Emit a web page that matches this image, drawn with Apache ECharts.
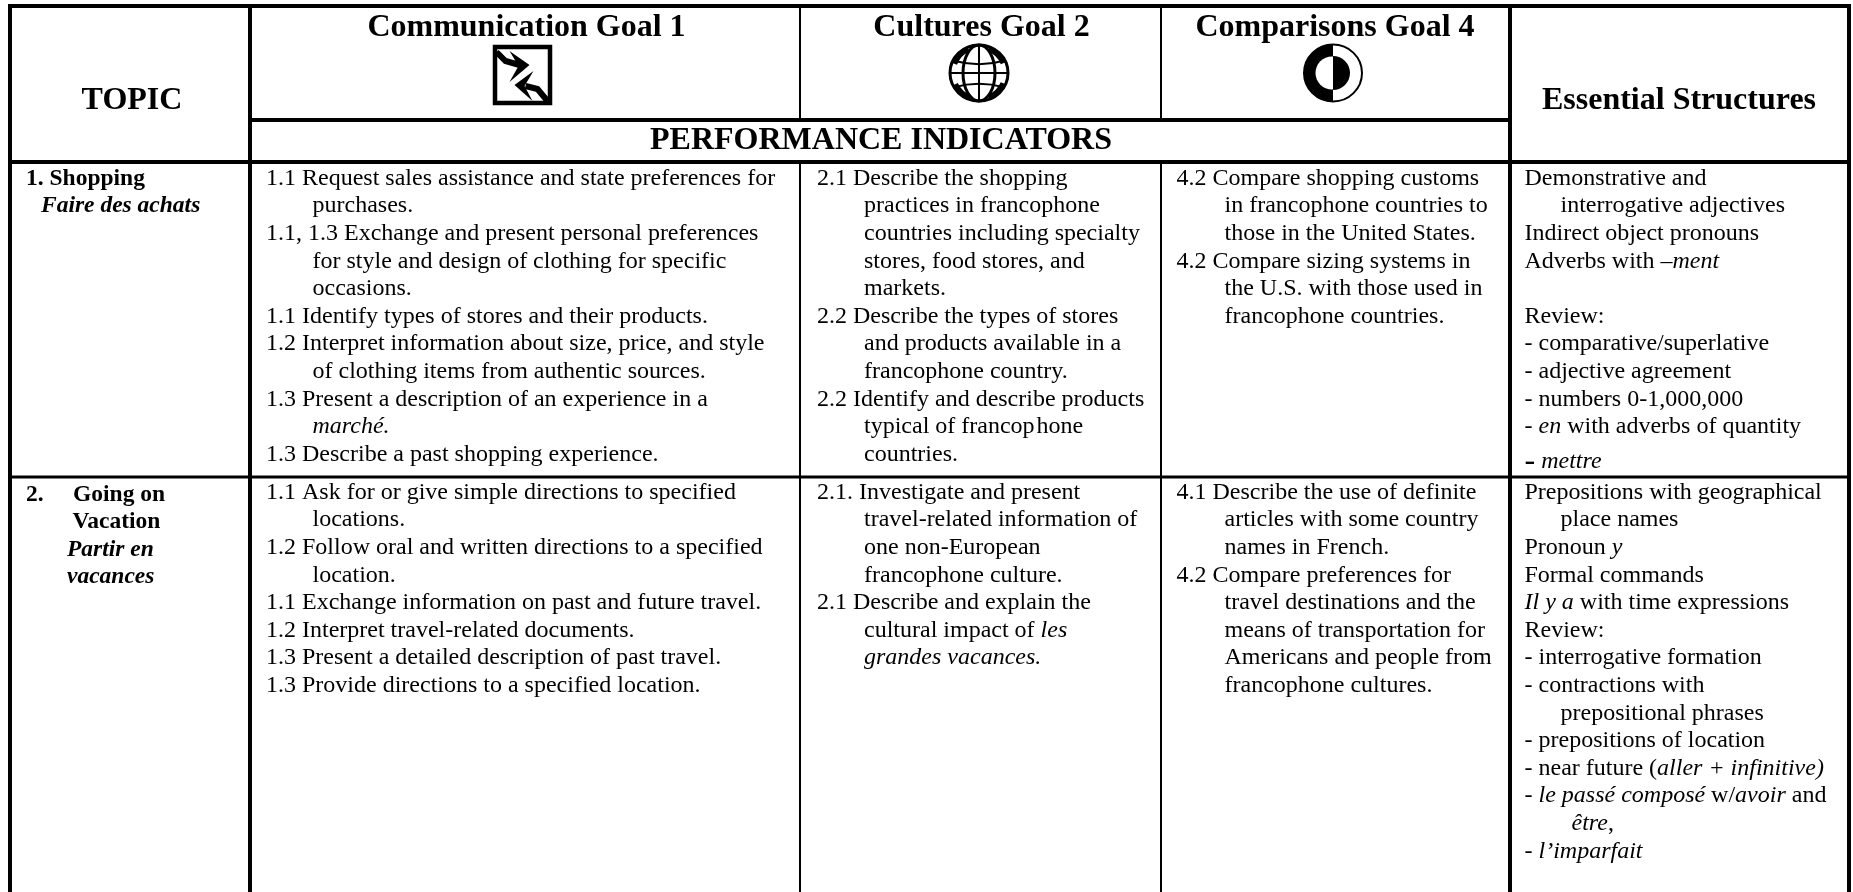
<!DOCTYPE html>
<html>
<head>
<meta charset="utf-8">
<title>Performance indicators</title>
<style>
html, body { margin: 0; height: 100%; background: #fff; }
#main { width: 1853px; height: 892px; }
</style>
<script src="https://cdn.jsdelivr.net/npm/echarts@6/dist/echarts.min.js"></script>
</head>
<body>
<div id="main"></div>
<script>
// table content. \t at the start of a line = hanging indent level, {i|..} = italic run
var headers = ['Communication Goal 1', 'Cultures Goal 2', 'Comparisons Goal 4'];
var sideHeaders = ['TOPIC', 'Essential Structures'];
var bandHeader = 'PERFORMANCE INDICATORS';

var topic1 = ['{b|1. Shopping}', '\t{bi|Faire des achats}'];
var topic2 = ['{b|2.     Going on}', '\t\t{b|Vacation}', '\t\t\t{bi|Partir en}', '\t\t\t{bi|vacances}'];

var comm1 = [
    '1.1 Request sales assistance and state preferences for',
    '\tpurchases.',
    '1.1, 1.3 Exchange and present personal preferences',
    '\tfor style and design of clothing for specific',
    '\toccasions.',
    '1.1 Identify types of stores and their products.',
    '1.2 Interpret information about size, price, and style',
    '\tof clothing items from authentic sources.',
    '1.3 Present a description of an experience in a',
    '\t{i|marché.}',
    '1.3 Describe a past shopping experience.'
];
var comm2 = [
    '1.1 Ask for or give simple directions to specified',
    '\tlocations.',
    '1.2 Follow oral and written directions to a specified',
    '\tlocation.',
    '1.1 Exchange information on past and future travel.',
    '1.2 Interpret travel-related documents.',
    '1.3 Present a detailed description of past travel.',
    '1.3 Provide directions to a specified location.'
];
var cult1 = [
    '2.1 Describe the shopping',
    '\tpractices in francophone',
    '\tcountries including specialty',
    '\tstores, food stores, and',
    '\tmarkets.',
    '2.2 Describe the types of stores',
    '\tand products available in a',
    '\tfrancophone country.',
    '2.2 Identify and describe products',
    '\ttypical of francop\u200ahone',
    '\tcountries.'
];
var cult2 = [
    '2.1. Investigate and present',
    '\ttravel-related information of',
    '\tone non-European',
    '\tfrancophone culture.',
    '2.1 Describe and explain the',
    '\tcultural impact of {i|les}',
    '\t{i|grandes vacances.}'
];
var comp1 = [
    '4.2 Compare shopping customs',
    '\tin francophone countries to',
    '\tthose in the United States.',
    '4.2 Compare sizing systems in',
    '\tthe U.S. with those used in',
    '\tfrancophone countries.'
];
var comp2 = [
    '4.1 Describe the use of definite',
    '\tarticles with some country',
    '\tnames in French.',
    '4.2 Compare preferences for',
    '\ttravel destinations and the',
    '\tmeans of transportation for',
    '\tAmericans and people from',
    '\tfrancophone cultures.'
];
var struct1 = [
    'Demonstrative and',
    '\tinterrogative adjectives',
    'Indirect object pronouns',
    'Adverbs with {i|–ment}',
    '',
    'Review:',
    '- comparative/superlative',
    '- adjective agreement',
    '- numbers 0-1,000,000',
    '- {i|en} with adverbs of quantity',
    '{big|-} {i|mettre}'
];
var struct2 = [
    'Prepositions with geographical',
    '\tplace names',
    'Pronoun {i|y}',
    'Formal commands',
    '{i|Il y a} with time expressions',
    'Review:',
    '- interrogative formation',
    '- contractions with',
    '\tprepositional phrases',
    '- prepositions of location',
    '- near future ({i|aller + infinitive)}',
    '{i|- le passé composé} w/{i|avoir} and',
    '\t\t{i|être},',
    '{i|- l’imparfait}'
];

// layout of the page, in the hidden axes' pixel units
var colX = [10, 250, 800, 1161, 1510, 1849];
var rowY = [6, 120, 162, 477, 892];
var textX = [26, 266, 817, 1176.5, 1524.5];
var indentW = [[0, 15, 46.5, 41], [0, 46.5], [0, 47], [0, 48], [0, 36, 47]];
var lineH = 27.6;
var fontName = '"Liberation Serif", "Times New Roman", serif';
var bodySize = 24;
var headSize = 32;

var rules = [
    // [x1, y1, x2, y2, width]
    [colX[0] - 2, rowY[0], colX[5] + 2, rowY[0], 4],
    [colX[0], rowY[0], colX[0], rowY[4], 4],
    [colX[1], rowY[0], colX[1], rowY[4], 4],
    [colX[4], rowY[0], colX[4], rowY[4], 4],
    [colX[5], rowY[0], colX[5], rowY[4], 4],
    [colX[2], rowY[0], colX[2], rowY[1], 2],
    [colX[3], rowY[0], colX[3], rowY[1], 2],
    [colX[2], rowY[2], colX[2], rowY[4], 2],
    [colX[3], rowY[2], colX[3], rowY[4], 2],
    [colX[1], rowY[1], colX[4], rowY[1], 4],
    [colX[0], rowY[2], colX[5], rowY[2], 4],
    [colX[0], rowY[3], colX[5], rowY[3], 3]
];

var textItems = [];
function addHead(text, x, y) {
    textItems.push({ x: x, y: y, text: text, head: true });
}
function addBlock(lines, col, y0, step) {
    var y = y0;
    lines.forEach(function (line) {
        var level = 0;
        while (line.charAt(level) === '\t') level++;
        var extra = line.indexOf('{big|') === 0 ? 7 : 0;
        textItems.push({
            x: textX[col] + indentW[col][level],
            y: y + extra,
            text: line.slice(level)
        });
        y += step || lineH;
    });
}
addHead(headers[0], 526.5, 28);
addHead(headers[1], 981.5, 28);
addHead(headers[2], 1335, 28);
addHead(sideHeaders[0], 132, 101);
addHead(sideHeaders[1], 1679, 101);
addHead(bandHeader, 881, 141);

var row1Y = 178.5, row2Y = 492.5;
addBlock(topic1, 0, row1Y);
addBlock(topic2, 0, 495, 27.4);
addBlock(comm1, 1, row1Y);
addBlock(comm2, 1, row2Y);
addBlock(cult1, 2, row1Y);
addBlock(cult2, 2, row2Y);
addBlock(comp1, 3, row1Y);
addBlock(comp2, 3, row2Y);
addBlock(struct1, 4, row1Y);
addBlock(struct2, 4, row2Y);

function richStyle(size, weight, italic) {
    return {
        fontFamily: fontName,
        fontSize: size,
        fontWeight: weight,
        fontStyle: italic ? 'italic' : 'normal',
        fill: '#000',
        verticalAlign: 'middle'
    };
}

function renderRule(params, api) {
    var r = rules[params.dataIndex];
    var p1 = api.coord([r[0], r[1]]);
    var p2 = api.coord([r[2], r[3]]);
    return {
        type: 'line',
        shape: { x1: p1[0], y1: p1[1], x2: p2[0], y2: p2[1] },
        style: { stroke: '#000', lineWidth: r[4] }
    };
}

function renderText(params, api) {
    var t = textItems[params.dataIndex];
    var p = api.coord([t.x, t.y]);
    return {
        type: 'text',
        x: p[0],
        y: p[1],
        style: {
            text: t.text,
            fontFamily: fontName,
            fontSize: t.head ? headSize : bodySize,
            fontWeight: t.head ? 'bold' : 'normal',
            fill: '#000',
            align: t.head ? 'center' : 'left',
            verticalAlign: 'middle',
            rich: {
                i: richStyle(bodySize, 'normal', true),
                b: richStyle(bodySize - 0.5, 'bold', false),
                bi: richStyle(bodySize - 0.5, 'bold', true),
                big: richStyle(bodySize + 8, 'normal', false)
            }
        }
    };
}

// the three goal pictograms, each drawn around a centre point
var icons = [
    { name: 'arrows', x: 522.5, y: 75 },
    { name: 'globe', x: 979, y: 73 },
    { name: 'contrast', x: 1333, y: 73 }
];

function arrowsIcon() {
    return [
        { type: 'rect', shape: { x: -27.5, y: -28, width: 55, height: 56 }, style: { fill: '#fff', stroke: '#000', lineWidth: 4.5 } },
        { type: 'polygon', shape: { points: [[-13, -24], [7, -10], [-13, 7], [-4, -9]] }, style: { fill: '#000' } },
        { type: 'polyline', shape: { points: [[-26, -23], [-17, -14], [-3, -10]] }, style: { stroke: '#000', lineWidth: 6, fill: null } },
        { type: 'polygon', shape: { points: [[11, -4], [-8, 10], [10, 26], [2, 11]] }, style: { fill: '#000' } },
        { type: 'polyline', shape: { points: [[3, 11], [15, 14], [25, 26]] }, style: { stroke: '#000', lineWidth: 6, fill: null } }
    ];
}
function globeIcon() {
    var line = { stroke: '#000', lineWidth: 2, fill: null };
    var patch = { stroke: '#000', lineWidth: 5, fill: null };
    return [
        { type: 'ellipse', shape: { cx: 0, cy: 0, rx: 29, ry: 28 }, style: { stroke: '#000', lineWidth: 3, fill: null } },
        { type: 'ellipse', shape: { cx: 0, cy: 0, rx: 16, ry: 28 }, style: { stroke: '#000', lineWidth: 3, fill: null } },
        { type: 'line', shape: { x1: 0, y1: -29, x2: 0, y2: 29 }, style: line },
        { type: 'line', shape: { x1: -29, y1: 0, x2: 30, y2: 0 }, style: line },
        { type: 'path', shape: { pathData: 'M-25 -14 Q0 -7 25 -14', layout: 'center', x: -25, y: -14, width: 50, height: 7 }, style: line },
        { type: 'path', shape: { pathData: 'M-25 14 Q0 7 25 14', layout: 'center', x: -25, y: 9, width: 50, height: 7 }, style: line },
        { type: 'arc', shape: { cx: 0, cy: 0, r: 26, startAngle: 3.5, endAngle: 4.3 }, style: patch },
        { type: 'arc', shape: { cx: 0, cy: 0, r: 26, startAngle: 5.1, endAngle: 5.9 }, style: patch },
        { type: 'arc', shape: { cx: 0, cy: 0, r: 26, startAngle: 0.4, endAngle: 1.2 }, style: patch },
        { type: 'arc', shape: { cx: 0, cy: 0, r: 26, startAngle: 1.9, endAngle: 2.7 }, style: patch }
    ];
}
function contrastIcon() {
    var q = Math.PI / 2;
    return [
        { type: 'ellipse', shape: { cx: 0, cy: 0, rx: 29, ry: 28.5 }, style: { stroke: '#000', lineWidth: 2, fill: '#fff' } },
        { type: 'sector', shape: { cx: 0, cy: 0, r: 29, r0: 0, startAngle: q, endAngle: 3 * q }, style: { fill: '#000' } },
        { type: 'circle', shape: { cx: -1, cy: 0, r: 16.5 }, style: { fill: '#fff' } },
        { type: 'sector', shape: { cx: 0, cy: 0, r: 17, r0: 0, startAngle: -q, endAngle: q }, style: { fill: '#000' } }
    ];
}
var iconParts = { arrows: arrowsIcon, globe: globeIcon, contrast: contrastIcon };

function renderIcon(params, api) {
    var ic = icons[params.dataIndex];
    var p = api.coord([ic.x, ic.y]);
    return { type: 'group', x: p[0], y: p[1], children: iconParts[ic.name]() };
}

var myChart = echarts.init(document.getElementById('main'));
myChart.setOption({
    animation: false,
    backgroundColor: '#fff',
    tooltip: { show: false },
    grid: { left: 0, right: 0, top: 0, bottom: 0 },
    xAxis: { type: 'value', min: 0, max: 1853, show: false },
    yAxis: { type: 'value', min: 0, max: 892, inverse: true, show: false },
    series: [
        {
            type: 'custom', silent: true, clip: false,
            renderItem: renderRule,
            data: rules.map(function (r) { return [r[0], r[1]]; })
        },
        {
            type: 'custom', silent: true, clip: false,
            renderItem: renderIcon,
            data: icons.map(function (ic) { return [ic.x, ic.y]; })
        },
        {
            type: 'custom', silent: true, clip: false,
            renderItem: renderText,
            data: textItems.map(function (t) { return [t.x, t.y]; })
        }
    ]
});
window.onresize = function () {
    myChart.resize();
};
</script>
</body>
</html>
